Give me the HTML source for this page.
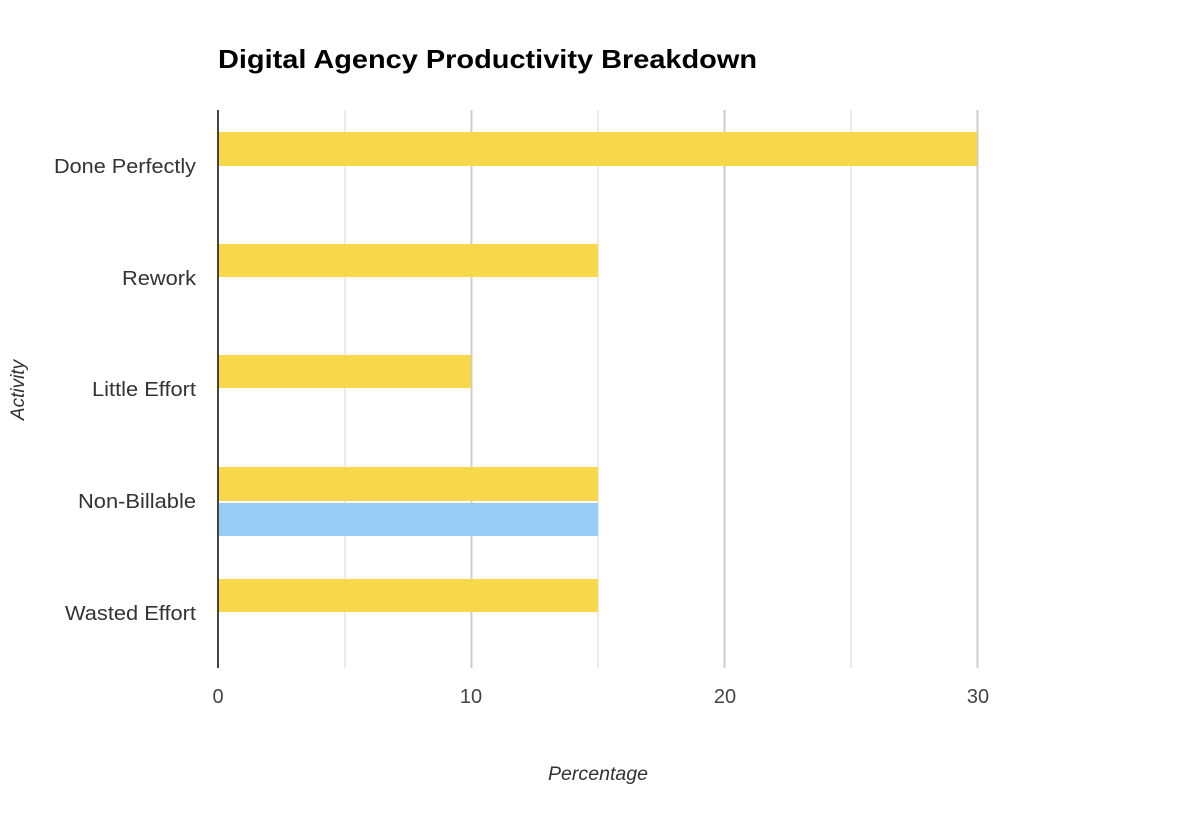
<!DOCTYPE html>
<html><head><meta charset="utf-8"><style>
body{margin:0;background:#fff;}
svg{display:block;font-family:"Liberation Sans",Arial,sans-serif;}
</style></head><body>
<svg width="1186" height="828" viewBox="0 0 1186 828">
<rect width="1186" height="828" fill="#fff"/>
<text x="218" y="68" font-size="26" font-weight="bold" fill="#000" textLength="539" lengthAdjust="spacingAndGlyphs">Digital Agency Productivity Breakdown</text>
<g stroke="#ebebeb" stroke-width="2">
<line x1="345" y1="110" x2="345" y2="668"/>
<line x1="598" y1="110" x2="598" y2="668"/>
<line x1="851" y1="110" x2="851" y2="668"/>
</g>
<g stroke="#cccccc" stroke-width="2">
<line x1="471.5" y1="110" x2="471.5" y2="668"/>
<line x1="724.5" y1="110" x2="724.5" y2="668"/>
<line x1="977.5" y1="110" x2="977.5" y2="668"/>
</g>
<g fill="#F9D74A">
<rect x="219" y="132" width="758" height="34"/>
<rect x="219" y="244" width="379" height="33"/>
<rect x="219" y="355" width="252" height="33"/>
<rect x="219" y="467" width="379" height="34"/>
<rect x="219" y="579" width="379" height="33"/>
</g>
<rect x="219" y="503" width="379" height="33" fill="#98CDF5"/>
<line x1="218" y1="110" x2="218" y2="668" stroke="#444" stroke-width="2"/>
<g font-size="20" fill="#333">
<text x="54" y="173" textLength="142" lengthAdjust="spacingAndGlyphs">Done Perfectly</text>
<text x="122" y="285" textLength="74" lengthAdjust="spacingAndGlyphs">Rework</text>
<text x="92" y="396" textLength="104" lengthAdjust="spacingAndGlyphs">Little Effort</text>
<text x="78" y="508" textLength="118" lengthAdjust="spacingAndGlyphs">Non-Billable</text>
<text x="65" y="620" textLength="131" lengthAdjust="spacingAndGlyphs">Wasted Effort</text>
</g>
<g font-size="20" fill="#444" text-anchor="middle">
<text x="218" y="703">0</text>
<text x="471" y="703">10</text>
<text x="725" y="703">20</text>
<text x="978" y="703">30</text>
</g>
<text x="548" y="780" font-size="19" font-style="italic" fill="#333" textLength="100" lengthAdjust="spacingAndGlyphs">Percentage</text>
<text transform="translate(24,390) rotate(-90)" font-size="19" font-style="italic" fill="#333" text-anchor="middle">Activity</text>
</svg>
</body></html>
